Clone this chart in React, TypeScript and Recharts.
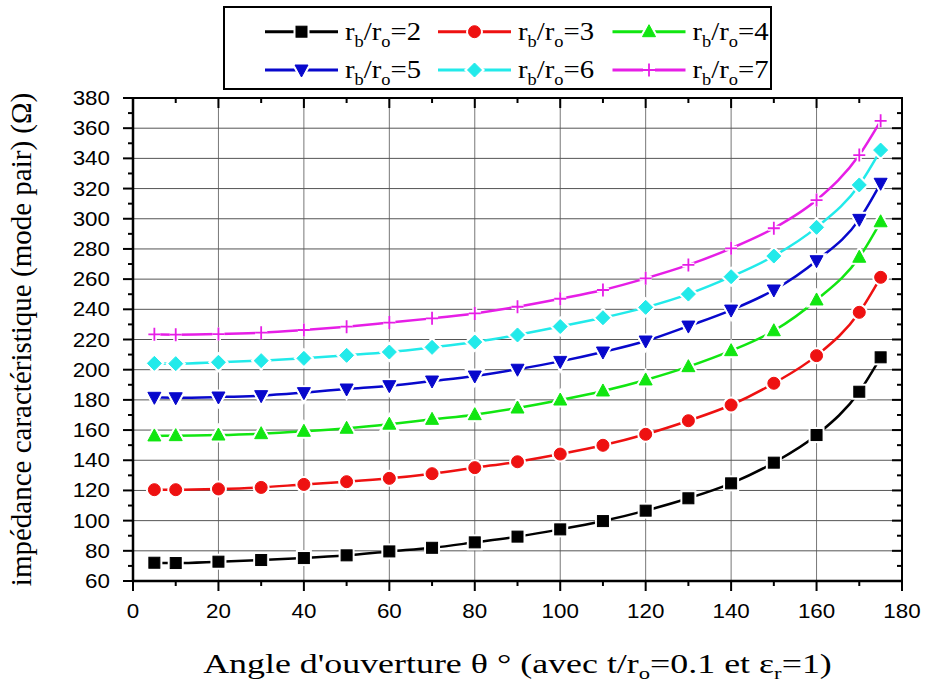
import React from "react";
import {
  LineChart,
  Line,
  XAxis,
  YAxis,
  CartesianGrid,
  Legend,
  ReferenceArea,
  Label,
} from "recharts";

// angle d'ouverture (deg)
const THETA = [5, 10, 20, 30, 40, 50, 60, 70, 80, 90, 100, 110, 120, 130, 140, 150, 160, 170, 175];

// impedance (ohm) for each rb/ro ratio
const RB2 = [72.1, 71.9, 72.8, 73.9, 75.2, 77.0, 79.6, 82.0, 85.6, 89.4, 94.2, 99.7, 106.6, 114.8, 124.7, 138.4, 156.7, 185.4, 208.2];
const RB3 = [120.5, 120.5, 121.0, 122.0, 124.0, 125.8, 128.0, 131.1, 135.1, 139.0, 144.1, 149.9, 157.2, 166.2, 176.6, 191.0, 209.3, 238.0, 261.2];
const RB4 = [156.1, 156.3, 156.7, 157.6, 159.2, 161.2, 163.9, 167.1, 170.2, 174.6, 179.9, 185.9, 193.2, 202.0, 212.6, 225.8, 246.2, 274.5, 298.0];
const RB5 = [181.7, 181.4, 181.9, 182.8, 184.8, 187.2, 189.4, 192.5, 195.8, 200.3, 205.5, 211.7, 219.0, 228.9, 239.5, 252.8, 272.2, 299.6, 323.5];
const RB6 = [204.2, 204.0, 204.9, 206.0, 207.5, 209.5, 211.7, 214.8, 218.3, 223.0, 228.6, 234.4, 241.3, 250.1, 261.6, 275.3, 294.3, 322.4, 345.5];
const RB7 = [223.4, 223.2, 223.6, 224.5, 226.3, 228.5, 231.2, 234.0, 237.3, 241.7, 247.0, 252.8, 260.5, 269.4, 280.4, 293.7, 312.4, 342.2, 364.9];

const X_TICKS = [0, 10, 20, 30, 40, 50, 60, 70, 80, 90, 100, 110, 120, 130, 140, 150, 160, 170, 180];
const Y_TICKS = [60, 70, 80, 90, 100, 110, 120, 130, 140, 150, 160, 170, 180, 190, 200, 210, 220, 230, 240, 250, 260, 270, 280, 290, 300, 310, 320, 330, 340, 350, 360, 370, 380];
const X_MAJOR = [0, 20, 40, 60, 80, 100, 120, 140, 160, 180];
const Y_MAJOR = [60, 80, 100, 120, 140, 160, 180, 200, 220, 240, 260, 280, 300, 320, 340, 360, 380];

const SERIES = [
  { key: "r2", ratio: "2", color: "#000000", shape: "square", values: RB2 },
  { key: "r3", ratio: "3", color: "#ee1111", shape: "circle", values: RB3 },
  { key: "r4", ratio: "4", color: "#11e611", shape: "up", values: RB4 },
  { key: "r5", ratio: "5", color: "#0808cc", shape: "down", values: RB5 },
  { key: "r6", ratio: "6", color: "#22eaea", shape: "diamond", values: RB6 },
  { key: "r7", ratio: "7", color: "#e61ee6", shape: "plus", values: RB7 },
];

const data = THETA.map((t, i) => {
  const row: { [k: string]: number } = { theta: t };
  SERIES.forEach((s) => {
    row[s.key] = s.values[i];
  });
  return row;
});

const W = 926;
const H = 683;
const MARGIN = { top: 98, right: 24, bottom: 62, left: 73 };
const Y_AXIS_W = 60;
const X_AXIS_H = 40;
const PLOT_W = W - MARGIN.left - MARGIN.right - Y_AXIS_W;
const PLOT_H = H - MARGIN.top - MARGIN.bottom - X_AXIS_H;

const SERIF = "'Liberation Serif', 'Times New Roman', serif";
const SANS = "'Liberation Sans', Arial, sans-serif";

function Marker({ shape, cx, cy, color, halo }: any) {
  const fill = halo ? "#fff" : color;
  const sw = halo ? 5 : 1;
  switch (shape) {
    case "square":
      return <rect x={cx - 5.5} y={cy - 5.5} width={11} height={11} fill={fill} stroke={fill} strokeWidth={sw} />;
    case "circle":
      return <circle cx={cx} cy={cy} r={6} fill={fill} stroke={fill} strokeWidth={sw} />;
    case "up":
      return <polygon points={`${cx},${cy - 7} ${cx + 6.5},${cy + 5} ${cx - 6.5},${cy + 5}`} fill={fill} stroke={fill} strokeWidth={sw} />;
    case "down":
      return <polygon points={`${cx},${cy + 7} ${cx + 6.5},${cy - 5} ${cx - 6.5},${cy - 5}`} fill={fill} stroke={fill} strokeWidth={sw} />;
    case "diamond":
      return <polygon points={`${cx},${cy - 7} ${cx + 7},${cy} ${cx},${cy + 7} ${cx - 7},${cy}`} fill={fill} stroke={fill} strokeWidth={sw} />;
    default:
      return (
        <path
          d={`M${cx - 6},${cy}H${cx + 6}M${cx},${cy - 6.5}V${cy + 6.5}`}
          stroke={fill}
          strokeWidth={halo ? 5 : 1.8}
          fill="none"
        />
      );
  }
}

const makeDot = (s: any) => (p: any) => {
  if (p.cx == null || p.cy == null) return <g key={`${s.key}-${p.index}`} />;
  return (
    <g key={`${s.key}-${p.index}`}>
      <Marker shape={s.shape} cx={p.cx} cy={p.cy} color={s.color} halo />
      <Marker shape={s.shape} cx={p.cx} cy={p.cy} color={s.color} />
    </g>
  );
};

// bottom axis: outward ticks, labels; also inward ticks on the top border
const renderXTick = (props: any) => {
  const { x, y, payload } = props;
  const v = payload.value;
  const major = v % 20 === 0;
  const len = major ? 10 : 5;
  return (
    <g>
      <line x1={x} x2={x} y1={y} y2={y + len} stroke="#000" strokeWidth={2} />
      <line x1={x} x2={x} y1={y - PLOT_H} y2={y - PLOT_H + len} stroke="#000" strokeWidth={2} />
      {major && (
        <g transform={`translate(${x},${y + 37}) scale(1.12,1)`}>
          <text x={0} y={0} textAnchor="middle" fontFamily={SANS} fontSize={20} fill="#000">
            {v}
          </text>
        </g>
      )}
    </g>
  );
};

// left axis: outward ticks, labels; also inward ticks on the right border
const renderYTick = (props: any) => {
  const { x, y, payload } = props;
  const v = payload.value;
  const major = v % 20 === 0;
  const len = major ? 10 : 5;
  return (
    <g>
      <line x1={x} x2={x - len} y1={y} y2={y} stroke="#000" strokeWidth={2} />
      <line x1={x + PLOT_W} x2={x + PLOT_W - len} y1={y} y2={y} stroke="#000" strokeWidth={2} />
      {major && (
        <g transform={`translate(${x - 23},${y + 7}) scale(1.12,1)`}>
          <text x={0} y={0} textAnchor="end" fontFamily={SANS} fontSize={20} fill="#000">
            {v}
          </text>
        </g>
      )}
    </g>
  );
};

const renderXTitle = (props: any) => {
  const vb = props.viewBox || { x: MARGIN.left + Y_AXIS_W, y: MARGIN.top + PLOT_H, width: PLOT_W };
  const cx = vb.x + vb.width / 2;
  const y = vb.y + 92;
  return (
    <g transform={`translate(${cx},${y}) scale(1.33,1)`}>
      <text x={0} y={0} textAnchor="middle" fontFamily={SERIF} fontSize={27} fill="#000">
        Angle d'ouverture θ ° (avec t/r
        <tspan dy={6} fontSize={17}>o</tspan>
        <tspan dy={-6}>=0.1 et ε</tspan>
        <tspan dy={6} fontSize={17}>r</tspan>
        <tspan dy={-6}>=1)</tspan>
      </text>
    </g>
  );
};

const renderYTitle = (props: any) => {
  const vb = props.viewBox || { y: MARGIN.top, height: PLOT_H };
  const cy = vb.y + vb.height / 2;
  const x = 31;
  return (
    <text
      x={x}
      y={cy}
      transform={`rotate(-90, ${x}, ${cy})`}
      textAnchor="middle"
      fontFamily={SERIF}
      fontSize={29}
      fill="#000"
    >
      impédance caractéristique (mode pair) (Ω)
    </text>
  );
};

const LegendBox = () => {
  const rows = [23.7, 62];
  const cols = [40, 213, 387.5];
  return (
    <div
      style={{
        width: 549,
        height: 84,
        border: "2px solid #000",
        boxSizing: "border-box",
        background: "#fff",
      }}
    >
      <svg width={545} height={80} style={{ display: "block", overflow: "visible" }}>
        {SERIES.map((s, i) => {
          const lx = cols[i % 3];
          const ly = rows[Math.floor(i / 3)];
          return (
            <g key={s.key}>
              <line x1={lx} x2={lx + 73} y1={ly} y2={ly} stroke={s.color} strokeWidth={3} />
              <Marker shape={s.shape} cx={lx + 36.5} cy={ly} color={s.color} halo />
              <Marker shape={s.shape} cx={lx + 36.5} cy={ly} color={s.color} />
              <g transform={`translate(${lx + 80},${ly + 8}) scale(1.15,1)`}>
                <text x={0} y={0} fontFamily={SERIF} fontSize={25} fill="#000">
                  r<tspan dy={7} fontSize={16}>b</tspan>
                  <tspan dy={-7}>/r</tspan>
                  <tspan dy={7} fontSize={16}>o</tspan>
                  <tspan dy={-7}>={s.ratio}</tspan>
                </text>
              </g>
            </g>
          );
        })}
      </svg>
    </div>
  );
};

const scaleOf = (axis: any) => {
  const sc = axis && axis.scale;
  if (typeof sc === "function") return (v: number) => sc(v);
  if (sc && typeof sc.map === "function") return (v: number) => sc.map(v);
  return (v: number) => v;
};

export default function App() {
  return (
    <div style={{ width: W, height: H, background: "#fff" }}>
      <style>{"body{margin:0;background:#fff}"}</style>
      <LineChart width={W} height={H} data={data} margin={MARGIN}>
        <CartesianGrid
          horizontal={false}
          stroke="#777"
          strokeWidth={1}
          verticalCoordinatesGenerator={({ xAxis }: any) => X_MAJOR.map(scaleOf(xAxis))}
        />
        <CartesianGrid
          vertical={false}
          stroke="#555"
          strokeWidth={1}
          horizontalCoordinatesGenerator={({ yAxis }: any) => Y_MAJOR.map(scaleOf(yAxis))}
        />
        <XAxis
          dataKey="theta"
          type="number"
          domain={[0, 180]}
          ticks={X_TICKS}
          interval={0}
          height={X_AXIS_H}
          tickLine={false}
          tickSize={0}
          tickMargin={0}
          axisLine={{ stroke: "#000", strokeWidth: 2.5 }}
          tick={renderXTick}
        >
          <Label content={renderXTitle} />
        </XAxis>
        <YAxis
          type="number"
          domain={[60, 380]}
          ticks={Y_TICKS}
          interval={0}
          width={Y_AXIS_W}
          tickLine={false}
          tickSize={0}
          tickMargin={0}
          axisLine={{ stroke: "#000", strokeWidth: 2.5 }}
          tick={renderYTick}
        >
          <Label content={renderYTitle} />
        </YAxis>
        <ReferenceArea x1={0} x2={180} y1={60} y2={380} fill="none" stroke="#000" strokeWidth={2} />
        {SERIES.map((s) => (
          <Line
            key={s.key}
            dataKey={s.key}
            type="monotone"
            stroke={s.color}
            strokeWidth={2.5}
            dot={makeDot(s)}
            activeDot={false}
            isAnimationActive={false}
          />
        ))}
        <Legend
          layout="vertical"
          align="center"
          verticalAlign="middle"
          wrapperStyle={{ left: 223, top: 6, width: 549, height: 84 }}
          content={() => <LegendBox />}
        />
      </LineChart>
    </div>
  );
}
